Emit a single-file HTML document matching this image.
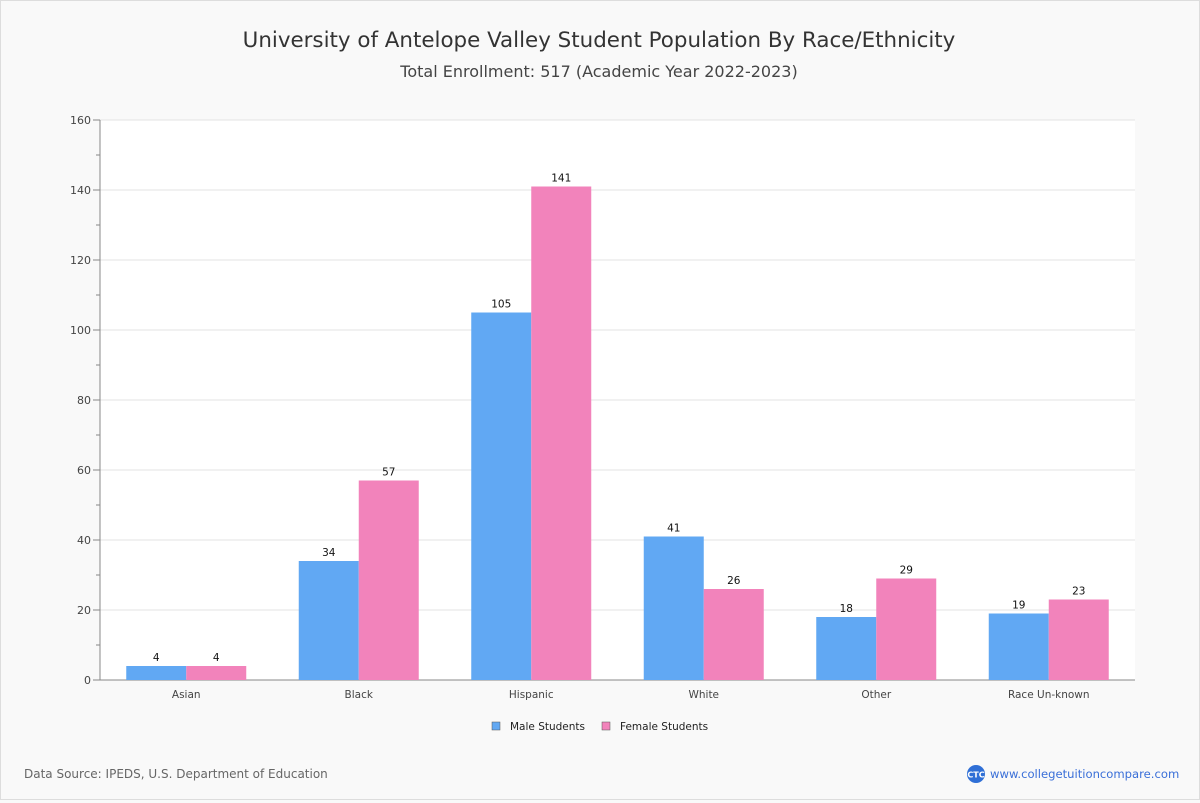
<!DOCTYPE html>
<html><head><meta charset="utf-8">
<style>
body{margin:0;background:#f9f9f9;font-family:"DejaVu Sans","Liberation Sans",sans-serif;}
#wrap{position:relative;width:1198px;height:798px;border:1px solid #ddd;background:#f9f9f9;}
</style></head>
<body>
<div id="wrap">
<svg id="chart" width="1198" height="798" xmlns="http://www.w3.org/2000/svg">
<text x="598" y="46" text-anchor="middle" font-size="21.4" fill="#333">University of Antelope Valley Student Population By Race/Ethnicity</text>
<text x="598" y="76" text-anchor="middle" font-size="16" fill="#444">Total Enrollment: 517 (Academic Year 2022-2023)</text>
<text x="23" y="777" font-size="12" fill="#666">Data Source: IPEDS, U.S. Department of Education</text>
<g>
<circle cx="975" cy="773" r="9" fill="#2f6fd6"/>
<text x="975" y="776.5" text-anchor="middle" font-size="8" fill="#fff" font-weight="bold">CTC</text>
<text x="989" y="777" font-size="11.6" fill="#3a6fd8">www.collegetuitioncompare.com</text>
</g>
</svg>
</div>
<script>
const categories=["Asian","Black","Hispanic","White","Other","Race Un-known"];
const maleValues=[4,34,105,41,18,19];
const femaleValues=[4,57,141,26,29,23];
const yTicks=[0,20,40,60,80,100,120,140,160];
const seriesNames=["Male Students","Female Students"];

const svg=document.getElementById('chart');
const NS='http://www.w3.org/2000/svg';
const L=99,R=1134,T=119,B=679,yMax=160;
const y=v=>B-(v/yMax)*(B-T);
const band=(R-L)/categories.length;
const x=i=>L+band*i;
const bw=60;
function mk(tag,attrs,parent){const e=document.createElementNS(NS,tag);for(const k in attrs)e.setAttribute(k,attrs[k]);(parent||svg).appendChild(e);return e;}
const plot=mk('rect',{x:L,y:T,width:R-L,height:B-T,fill:'#fff'});


for(let v=0;v<=yMax;v+=10){
  mk('line',{x1:L-4,x2:L,y1:y(v),y2:y(v),stroke:'#888'});
}
yTicks.forEach(v=>{
  if(v>0){const g=mk('line',{x1:L,x2:R,y1:y(v),y2:y(v),stroke:'#e3e3e3'});
  
  }
  mk('line',{x1:L-7,x2:L,y1:y(v),y2:y(v),stroke:'#888'});
  const t=mk('text',{x:L-9,y:y(v)+4,'text-anchor':'end','font-size':11,fill:'#444'});
  t.textContent=v;
  
  
});
mk('line',{x1:L,x2:L,y1:T,y2:B,stroke:'#888'});
mk('line',{x1:L,x2:R,y1:B,y2:B,stroke:'#888'});
const colors=['#61a8f3','#f283bb'];
categories.forEach((c,i)=>{
  const cx=x(i)+band/2;
  [maleValues[i],femaleValues[i]].forEach((v,s)=>{
    const bx=s===0?cx-bw:cx;
    const r=mk('rect',{x:bx,y:y(v),width:bw,height:B-y(v),fill:colors[s]});
    
    
    const t=mk('text',{x:bx+bw/2,y:y(v)-5,'text-anchor':'middle','font-size':10.5,fill:'#111'});
    t.textContent=v;
    
    
  });
  const lt=mk('text',{x:cx,y:B+18,'text-anchor':'middle','font-size':10.5,fill:'#444'});
  lt.textContent=c;
  
  
});
const legX=[491,601];
seriesNames.forEach((n,s)=>{
  const g=mk('g',{});
  
  
  mk('rect',{x:legX[s],y:721,width:8,height:8,fill:colors[s],stroke:'#555','stroke-width':0.5},g);
  const t=mk('text',{x:legX[s]+18,y:729,'font-size':10.5,fill:'#222'},g);
  t.textContent=n;
});
</script>
</body></html>
